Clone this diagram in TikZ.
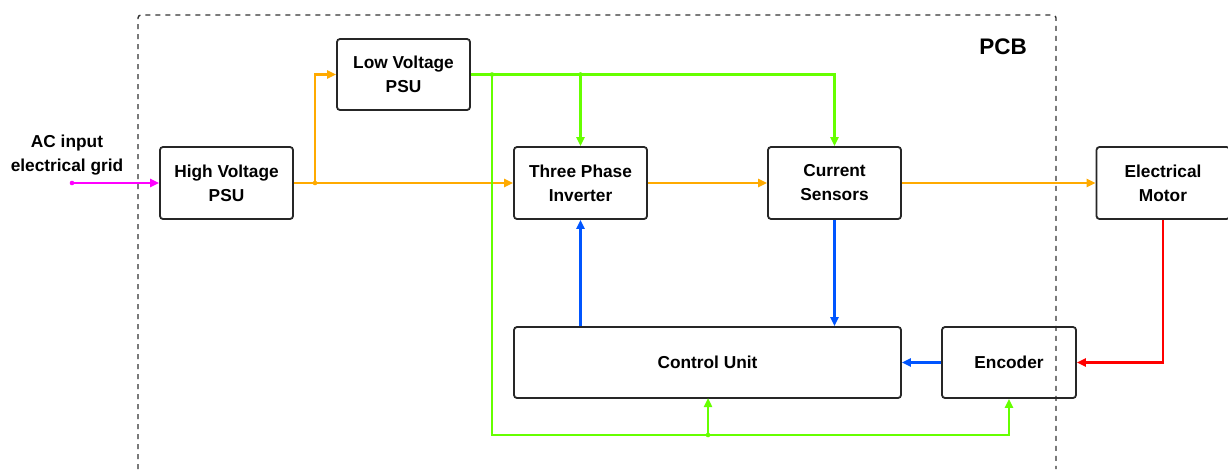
\documentclass[tikz,border=0pt]{standalone}
\usepackage{fontspec}
\setmainfont{Liberation Sans}
\usetikzlibrary{arrows.meta}
\definecolor{corange}{HTML}{FFAA00}
\definecolor{cgreen}{HTML}{66FF00}
\definecolor{cblue}{HTML}{0055FF}
\definecolor{cred}{HTML}{FF0000}
\definecolor{cmag}{HTML}{FF00FF}
\tikzset{
  blk/.style={draw=black!85, line width=1.8pt, rounded corners=3pt, inner sep=0pt,
    align=center, font=\fontsize{17.3}{24}\selectfont\bfseries},
  conn/.style={line width=2.3pt, -{Triangle[length=9pt,width=8pt]}},
  jdot/.style={circle, fill, inner sep=0pt, minimum size=4.5pt},
}
\begin{document}
\begin{tikzpicture}[x=1pt,y=-1pt]
\useasboundingbox (0,0) rectangle (1228,469);
% PCB dashed outline
\draw[black!80, line width=1.4pt, dash pattern=on 5pt off 5pt, rounded corners=3pt]
  (138,469) -- (138,15) -- (1056,15) -- (1056,469);
\node[font=\fontsize{22.5}{26}\selectfont\bfseries] (pcb) at (1003,47) {PCB};
\node[align=center, font=\fontsize{17.3}{24}\selectfont\bfseries] (ac) at (67,155) {AC input\\electrical grid};

% blocks
\node[blk, minimum width=133pt, minimum height=72pt] (hv) at (226.5,183) {High Voltage\\PSU};
\node[blk, minimum width=133pt, minimum height=71pt] (lv) at (403.5,74.5) {Low Voltage\\PSU};
\node[blk, minimum width=133pt, minimum height=72pt] (inv) at (580.5,183) {Three Phase\\Inverter};
\node[blk, minimum width=133pt, minimum height=72pt] (cs) at (834.5,183) {Current\\Sensors};
\node[blk, minimum width=133pt, minimum height=72pt] (mot) at (1163,183) {Electrical\\Motor};
\node[blk, minimum width=387pt, minimum height=71pt] (cu) at (707.5,362.5) {Control Unit};
\node[blk, minimum width=134pt, minimum height=71pt] (enc) at (1009,362.5) {Encoder};

% magenta input
\coordinate (acin) at (72,183);
\fill[cmag] (acin) circle (2.3pt);
\draw[conn, cmag] (acin) -- (hv.west);

% orange power
\coordinate (jo) at (315,183);
\draw[conn, corange] (hv.east) -- (inv.west);
\fill[corange] (jo) circle (2.3pt);
\draw[conn, corange] (jo) |- (lv.west);
\draw[conn, corange] (inv.east) -- (cs.west);
\draw[conn, corange] (cs.east) -- (mot.west);

% green low voltage
\coordinate (g1) at (492,74.5);
\coordinate (g2) at (580.5,74.5);
\coordinate (g3) at (708,435);
\draw[conn, cgreen] (lv.east) -| (cs.north);
\draw[conn, cgreen] (g2) -- (inv.north);
\draw[conn, cgreen] (g1) |- (g3) -| (enc.south);
\draw[conn, cgreen] (g3) -- (708,398);
\fill[cgreen] (g1) circle (2.3pt) (g2) circle (2.3pt) (g3) circle (2.3pt);

% blue signals
\draw[conn, cblue] (cs.south) -- (cu.north -| cs.south);
\draw[conn, cblue] (cu.north -| inv.south) -- (inv.south);
\draw[conn, cblue] (enc.west) -- (cu.east);

% red feedback
\draw[conn, cred] (mot.south) |- (enc.east);
\end{tikzpicture}
\end{document}
